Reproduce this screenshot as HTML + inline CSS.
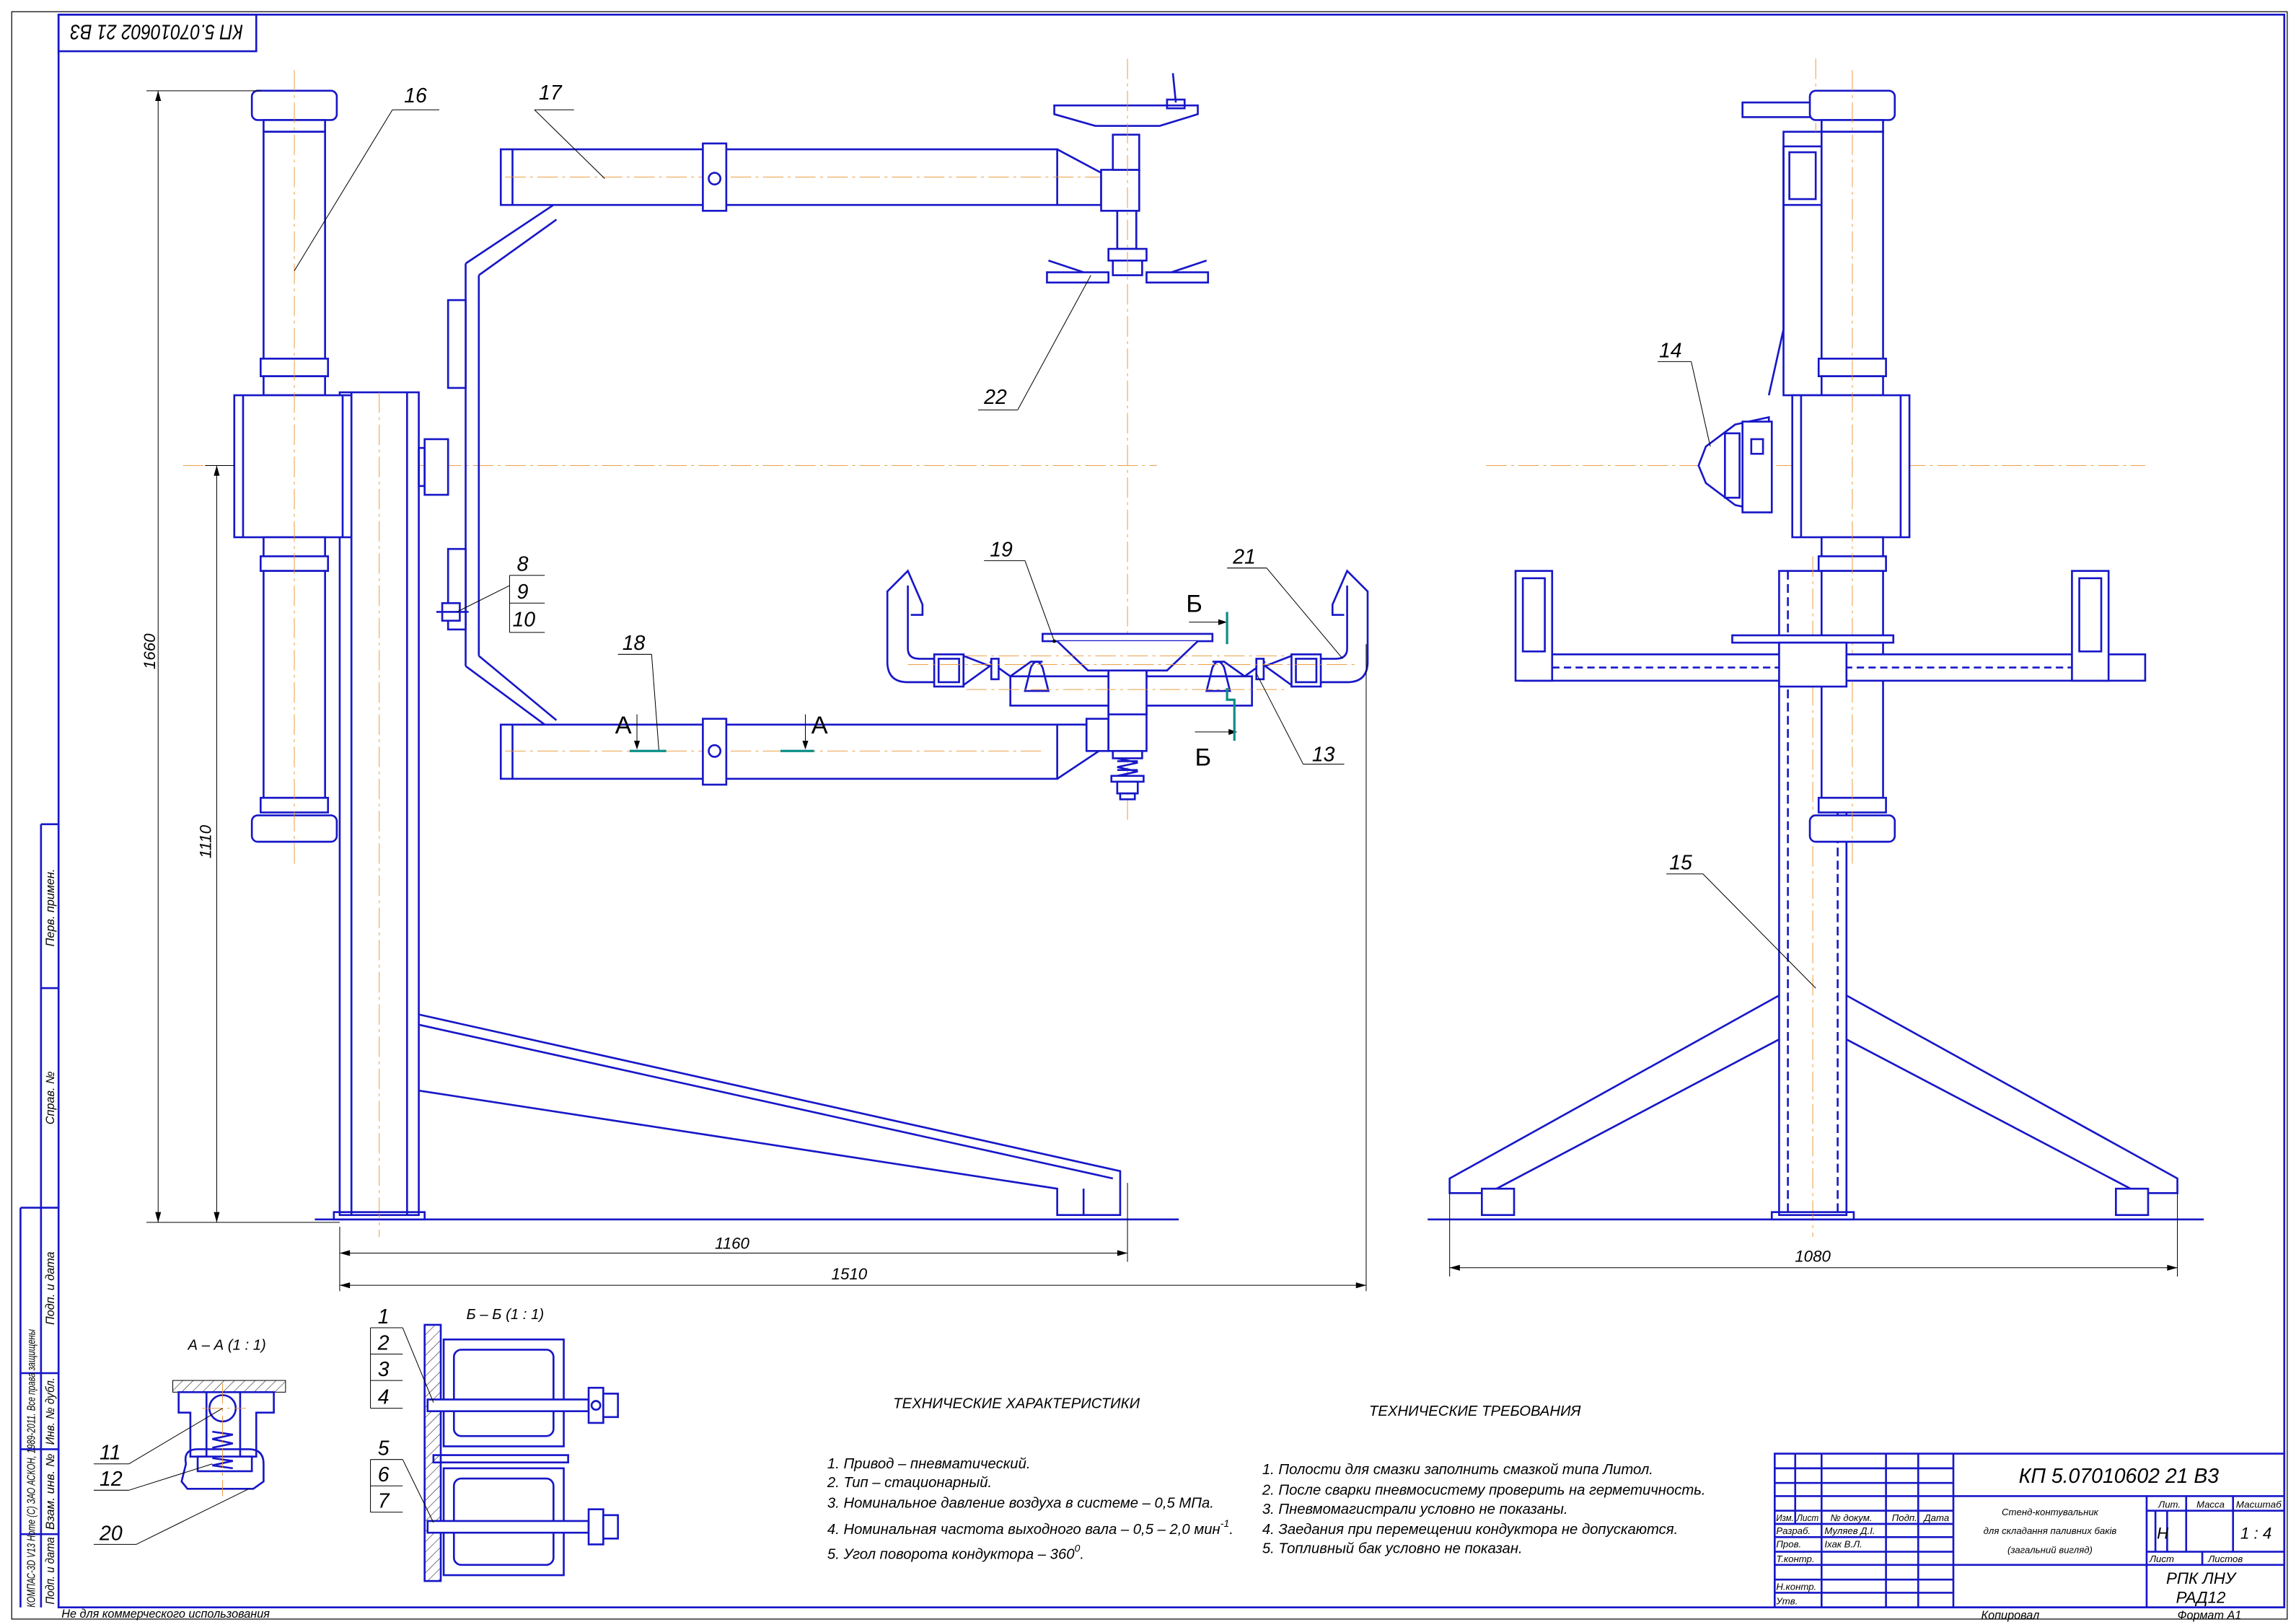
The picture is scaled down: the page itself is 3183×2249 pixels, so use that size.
<!DOCTYPE html>
<html><head><meta charset="utf-8"><style>
html,body{margin:0;padding:0;background:#fff}
svg{display:block}
.b{stroke:#1717c8;fill:none;stroke-width:1.3}
.bw{stroke:#1717c8;fill:#fff;stroke-width:1.3}
.t{stroke:#000;stroke-width:0.5;fill:none}
.c{stroke:#e8922e;stroke-width:0.45;stroke-dasharray:14 3 2 3;fill:none}
.g{stroke:#0b8f86;stroke-width:1.6;fill:none}
text{font-family:"Liberation Sans Narrow","Liberation Sans","DejaVu Sans",sans-serif;font-style:italic;fill:#000}
</style></head><body>
<svg width="3183" height="2249" viewBox="0 0 1568 1108" preserveAspectRatio="none" xmlns="http://www.w3.org/2000/svg">
<defs>
<pattern id="h" width="5" height="5" patternUnits="userSpaceOnUse" patternTransform="rotate(45)"><line x1="0" y1="0" x2="0" y2="5" stroke="#000" stroke-width="0.5"/></pattern>
<g id="col">
<rect class="bw" x="172" y="62" width="58" height="20" rx="4"/>
<rect class="bw" x="180" y="82" width="42" height="8"/>
<rect class="bw" x="180" y="90" width="42" height="155"/>
<rect class="bw" x="178" y="245" width="46" height="12"/>
<rect class="bw" x="180" y="257" width="42" height="13"/>
<rect class="bw" x="160" y="270" width="80" height="97"/>
<line class="b" x1="166" y1="270" x2="166" y2="367"/><line class="b" x1="234" y1="270" x2="234" y2="367"/>
<rect class="bw" x="180" y="367" width="42" height="13"/>
<rect class="bw" x="178" y="380" width="46" height="10"/>
<rect class="bw" x="180" y="390" width="42" height="155"/>
<rect class="bw" x="178" y="545" width="46" height="10"/>
<rect class="bw" x="172" y="557" width="58" height="18" rx="4"/>
<line class="c" x1="201" y1="48" x2="201" y2="590"/>
</g>
<g id="hold">
<path class="b" d="M612,398 L606,404 L606,452 Q606,466 620,466 L638,466 M620,400 L620,443 Q620,450 628,450 L638,450 M612,398 L620,390 L630,413 L630,420 L622,420"/>
<rect class="bw" x="638" y="447" width="20" height="22"/><rect class="b" x="641" y="450" width="14" height="16"/>
<path class="b" d="M658,448 L676,455 L658,468 M676,452 L690,462 L704,452 L712,452"/>
<rect class="bw" x="677" y="450" width="5" height="14"/>
<path class="b" d="M700,472 L704,456 Q708,448 712,456 L716,472 Z"/>
</g>
</defs>
<rect width="1568" height="1108" fill="#fff"/>
<rect x="8" y="8" width="1554" height="1098" fill="none" stroke="#000" stroke-width="0.6"/>
<rect class="b" x="40" y="10" width="1520" height="1088"/>
<rect class="b" x="40" y="10" width="135" height="25"/>
<text x="107" y="22" font-size="14" text-anchor="middle" textLength="118" lengthAdjust="spacingAndGlyphs" transform="rotate(180 107 22)" dy="5">КП 5.07010602 21 В3</text>
<path class="b" d="M28,563 L40,563 M28,563 L28,675 L40,675 M28,675 L28,825 L40,825 M14,825 L14,1098 M14,825 L40,825 M14,938 L40,938 M14,990 L40,990 M14,1048 L40,1048 M28,825 L28,1098"/>
<g font-size="8">
<text transform="translate(37,620) rotate(-90)" text-anchor="middle">Перв. примен.</text>
<text transform="translate(37,750) rotate(-90)" text-anchor="middle">Справ. №</text>
<text transform="translate(37,880) rotate(-90)" text-anchor="middle">Подп. и дата</text>
<text transform="translate(37,964) rotate(-90)" text-anchor="middle" textLength="46" lengthAdjust="spacingAndGlyphs">Инв. № дубл.</text>
<text transform="translate(37,1019) rotate(-90)" text-anchor="middle" textLength="52" lengthAdjust="spacingAndGlyphs">Взам. инв. №</text>
<text transform="translate(37,1073) rotate(-90)" text-anchor="middle" textLength="46" lengthAdjust="spacingAndGlyphs">Подп. и дата</text>
<text transform="translate(24,1098) rotate(-90)" font-size="7.5" textLength="190" lengthAdjust="spacingAndGlyphs">КОМПАС-3D V13 Home (С) ЗАО АСКОН, 1989-2011. Все права защищены</text>
</g>
<text x="42" y="1105" font-size="8">Не для коммерческого использования</text>
<text x="1353" y="1106" font-size="8">Копировал</text>
<text x="1487" y="1106" font-size="8">Формат   A1</text>

<g class="b">
<rect x="1212" y="993" width="348" height="105"/>
<path d="M1212,1003 L1334,1003 M1212,1013 L1334,1013 M1212,1022 L1560,1022 M1212,1032 L1334,1032 M1212,1041 L1334,1041 M1212,1050 L1334,1050 M1212,1060 L1334,1060 M1212,1069 L1560,1069 M1212,1079 L1334,1079 M1212,1088 L1334,1088 M1466,1032 L1560,1032 M1466,1060 L1560,1060
M1226,993 L1226,1041 M1244,993 L1244,1098 M1288,993 L1288,1098 M1310,993 L1310,1098 M1334,993 L1334,1098 M1466,1022 L1466,1098 M1493,1022 L1493,1060 M1525,1022 L1525,1060 M1504,1060 L1504,1069 M1472,1032 L1472,1060 M1480,1032 L1480,1060"/>
</g>
<text x="1447" y="1013" font-size="14" text-anchor="middle">КП 5.07010602 21 В3</text>
<g font-size="6.5">
<text x="1213" y="1039" textLength="12" lengthAdjust="spacingAndGlyphs">Изм.</text><text x="1227" y="1039" textLength="15" lengthAdjust="spacingAndGlyphs">Лист</text><text x="1250" y="1039">№ докум.</text><text x="1292" y="1039">Подп.</text><text x="1314" y="1039">Дата</text>
<text x="1213" y="1048">Разраб.</text><text x="1246" y="1048">Муляев Д.І.</text>
<text x="1213" y="1057">Пров.</text><text x="1246" y="1057">Іхак В.Л.</text>
<text x="1213" y="1067">Т.контр.</text>
<text x="1213" y="1086">Н.контр.</text><text x="1213" y="1096">Утв.</text>
<text x="1400" y="1035" text-anchor="middle">Стенд-контувальник</text>
<text x="1400" y="1048" text-anchor="middle">для складання паливних баків</text>
<text x="1400" y="1061" text-anchor="middle">(загальний вигляд)</text>
<text x="1474" y="1030">Лит.</text><text x="1500" y="1030">Масса</text><text x="1527" y="1030" textLength="31" lengthAdjust="spacingAndGlyphs">Масштаб</text>
<text x="1468" y="1067">Лист</text><text x="1508" y="1067">Листов</text>
</g>
<text x="1473" y="1051" font-size="11">Н</text>
<text x="1530" y="1051" font-size="11">1 : 4</text>
<text x="1503" y="1082" font-size="11" text-anchor="middle">РПК ЛНУ</text>
<text x="1503" y="1095" font-size="11" text-anchor="middle">РАД12</text>

<line class="c" x1="125" y1="318" x2="790" y2="318"/>
<rect class="bw" x="232" y="268" width="54" height="562"/>
<line class="b" x1="240" y1="268" x2="240" y2="830"/><line class="b" x1="278" y1="268" x2="278" y2="830"/>
<line class="c" x1="259" y1="268" x2="259" y2="845"/>
<rect class="b" x="228" y="828" width="62" height="5"/>
<path class="b" d="M286,693 L765,800 L765,830 L722,830 L722,812 L286,745 M740,812 L740,830 M286,700 L760,805"/>
<line class="b" x1="215" y1="833" x2="805" y2="833" stroke-width="0.8"/>
<use href="#col"/>
<path class="b" d="M318,180 L378,140 M327,188 L380,150 M318,180 L318,455 M327,188 L327,448 M318,455 L372,495 M327,448 L380,492"/>
<rect class="bw" x="306" y="205" width="12" height="60"/><rect class="bw" x="306" y="375" width="12" height="55"/>
<rect class="bw" x="290" y="300" width="16" height="38"/><rect class="b" x="286" y="306" width="4" height="26"/>
<rect class="bw" x="302" y="412" width="12" height="12"/><line class="b" x1="298" y1="418" x2="320" y2="418"/>
<rect class="bw" x="342" y="102" width="380" height="38"/>
<line class="b" x1="350" y1="102" x2="350" y2="140"/>
<line class="c" x1="345" y1="121" x2="760" y2="121"/>
<rect class="bw" x="480" y="98" width="16" height="46"/><circle class="b" cx="488" cy="122" r="4"/>
<path class="b" d="M722,102 L752,118 L752,140 L722,140"/>
<rect class="bw" x="752" y="116" width="26" height="28"/>
<rect class="bw" x="763" y="144" width="13" height="26"/>
<rect class="bw" x="760" y="92" width="18" height="24"/>
<path class="bw" d="M720,72 L818,72 L818,78 L792,86 L748,86 L720,78 Z"/>
<path class="b" d="M801,50 L803,70 M797,68 L809,68 L809,74 L797,74 Z"/>
<rect class="bw" x="757" y="170" width="26" height="8"/><rect class="bw" x="760" y="178" width="20" height="10"/>
<path class="b" d="M716,178 L740,186 M824,178 L800,186"/>
<rect class="bw" x="715" y="186" width="42" height="7"/><rect class="bw" x="783" y="186" width="42" height="7"/>
<line class="c" x1="770" y1="40" x2="770" y2="560"/>
<rect class="bw" x="342" y="495" width="380" height="37"/>
<line class="b" x1="350" y1="495" x2="350" y2="532"/>
<line class="c" x1="345" y1="513" x2="712" y2="513"/>
<rect class="bw" x="480" y="491" width="16" height="45"/><circle class="b" cx="488" cy="513" r="4"/>
<path class="b" d="M722,495 L752,495 L752,512 L722,532"/>
<rect class="bw" x="742" y="491" width="15" height="22"/>
<rect class="bw" x="757" y="458" width="26" height="55"/>
<line class="b" x1="757" y1="482" x2="783" y2="482"/><line class="b" x1="757" y1="485" x2="783" y2="485"/>
<rect class="bw" x="760" y="513" width="20" height="5"/>
<path class="b" d="M763,518 L777,521 L763,524 L777,527 L763,530 M763,520 L777,520 M763,526 L777,526"/>
<rect class="bw" x="759" y="530" width="22" height="4"/><rect class="bw" x="763" y="534" width="14" height="8"/><rect class="b" x="765" y="542" width="10" height="4"/>
<rect class="bw" x="690" y="462" width="165" height="20"/>
<rect class="bw" x="757" y="458" width="26" height="30"/>
<rect class="bw" x="712" y="433" width="116" height="5"/>
<path class="bw" d="M722,438 L743,458 L797,458 L818,438"/>
<circle cx="720" cy="438" r="1.2" fill="#000"/>
<use href="#hold"/>
<use href="#hold" transform="translate(1540,0) scale(-1,1)"/>
<line class="c" x1="620" y1="454" x2="925" y2="454"/>
<line class="c" x1="660" y1="448" x2="880" y2="448"/>
<line class="c" x1="660" y1="471" x2="880" y2="471"/>
<g class="t">
<path d="M100,62 L178,62 M100,835 L232,835 M140,318 L160,318"/>
<line x1="108" y1="62" x2="108" y2="835"/><line x1="148" y1="318" x2="148" y2="835"/>
<path d="M232,838 L232,882 M770,808 L770,862 M933,440 L933,882"/>
<line x1="232" y1="856" x2="770" y2="856"/><line x1="232" y1="878" x2="933" y2="878"/>
</g>
<g fill="#000">
<path d="M108,62 l-2,7 h4z M108,835 l-2,-7 h4z M148,318 l-2,7 h4z M148,835 l-2,-7 h4z M232,856 l7,-2 v4z M770,856 l-7,-2 v4z M232,878 l7,-2 v4z M933,878 l-7,-2 v4z"/>
</g>
<text transform="translate(106,445) rotate(-90)" font-size="11" text-anchor="middle">1660</text>
<text transform="translate(144,575) rotate(-90)" font-size="11" text-anchor="middle">1110</text>
<text x="500" y="853" font-size="11" text-anchor="middle">1160</text>
<text x="580" y="874" font-size="11" text-anchor="middle">1510</text>
<g class="t">
<path d="M268,75 L300,75 M268,75 L201,185"/>
<path d="M365,75 L392,75 M365,75 L413,122"/>
<path d="M668,280 L695,280 M695,280 L745,188"/>
<path d="M672,383 L700,383 M700,383 L720,438"/>
<path d="M838,388 L865,388 M865,388 L917,450"/>
<path d="M890,522 L918,522 M890,522 L858,460"/>
<path d="M422,447 L445,447 M445,447 L450,513"/>
<path d="M348,393 L372,393 M348,412 L372,412 M348,432 L372,432 M348,393 L348,432 M348,400 L312,418"/>
</g>
<g font-size="14">
<text x="276" y="70">16</text><text x="368" y="68">17</text><text x="672" y="276">22</text>
<text x="676" y="380">19</text><text x="842" y="385">21</text><text x="896" y="520">13</text>
<text x="425" y="444">18</text><text x="353" y="390">8</text><text x="353" y="409">9</text><text x="350" y="428">10</text>
</g>
<g font-size="17"><text x="420" y="501" style="font-style:normal">А</text><text x="554" y="501" style="font-style:normal">А</text><text x="810" y="418" style="font-style:normal">Б</text><text x="816" y="523" style="font-style:normal">Б</text></g>
<path class="t" d="M435,488 L435,510 M550,488 L550,510 M812,425 L836,425 M816,500 L843,500"/>
<path d="M435,512 l-2,-6 h4z M550,512 l-2,-6 h4z M838,425 l-6,-2 v4z M845,500 l-6,-2 v4z" fill="#000"/>
<path class="g" d="M430,513 L455,513 M533,513 L556,513 M838,418 L838,440 M838,470 L838,478 L843,478 L843,506"/>

<line class="c" x1="1015" y1="318" x2="1465" y2="318"/>
<rect class="bw" x="1215" y="390" width="46" height="440"/>
<line class="b" x1="1221" y1="390" x2="1221" y2="830" stroke-dasharray="6 3"/><line class="b" x1="1255" y1="390" x2="1255" y2="830" stroke-dasharray="6 3"/>
<line class="c" x1="1238" y1="380" x2="1238" y2="845"/>
<rect class="bw" x="1218" y="90" width="28" height="180"/>
<rect class="b" x="1218" y="100" width="26" height="40"/><rect class="b" x="1222" y="104" width="18" height="32"/>
<path class="b" d="M1218,225 L1208,270 M1218,140 L1218,225"/>
<rect class="bw" x="1190" y="70" width="52" height="10"/>
<line class="c" x1="1240" y1="40" x2="1240" y2="90"/>
<use href="#col" transform="translate(1064,0)"/>
<path class="bw" d="M1208,285 L1185,290 L1165,305 L1160,318 L1165,330 L1185,345 L1208,350 Z"/>
<rect class="bw" x="1178" y="296" width="10" height="44"/><rect class="bw" x="1190" y="288" width="20" height="62"/>
<rect class="b" x="1196" y="300" width="8" height="10"/>
<rect class="bw" x="1040" y="447" width="425" height="18"/>
<line class="b" x1="1060" y1="456" x2="1440" y2="456" stroke-dasharray="5 3" stroke-width="0.8"/>
<rect class="bw" x="1035" y="390" width="25" height="75"/><rect class="b" x="1040" y="395" width="15" height="50"/>
<rect class="bw" x="1415" y="390" width="25" height="75"/><rect class="b" x="1420" y="395" width="15" height="50"/>
<rect class="bw" x="1183" y="434" width="110" height="5"/>
<rect class="bw" x="1215" y="439" width="46" height="30"/>
<path class="b" d="M1215,680 L990,805 L990,815 L1012,815 M1215,710 L1022,812 M1261,680 L1487,805 L1487,815 L1465,815 M1261,710 L1455,812"/>
<rect class="bw" x="1012" y="812" width="22" height="18"/><rect class="bw" x="1445" y="812" width="22" height="18"/>
<rect class="b" x="1210" y="828" width="56" height="5"/>
<line class="b" x1="975" y1="833" x2="1505" y2="833" stroke-width="0.8"/>
<path class="t" d="M990,815 L990,872 M1487,815 L1487,872 M990,866 L1487,866"/>
<path d="M990,866 l7,-2 v4z M1487,866 l-7,-2 v4z" fill="#000"/>
<text x="1238" y="862" font-size="11" text-anchor="middle">1080</text>
<path class="t" d="M1132,247 L1155,247 M1155,247 L1168,305 M1138,597 L1163,597 M1163,597 L1240,675"/>
<text x="1133" y="244" font-size="14">14</text><text x="1140" y="594" font-size="14">15</text>

<text x="155" y="922" font-size="10" text-anchor="middle">А – А (1 : 1)</text>
<rect x="118" y="943" width="77" height="8" fill="url(#h)" stroke="#000" stroke-width="0.5"/>
<path class="b" d="M122,951 L187,951 L187,965 L175,965 L175,995 L130,995 L130,965 L122,965 Z" fill="url(#h)"/>
<rect class="bw" x="141" y="951" width="23" height="46"/>
<circle class="bw" cx="152" cy="962" r="9"/>
<path class="b" d="M145,978 L159,980 L145,983 L159,986 L145,989 M145,998 L159,1000 L145,1003 L159,1005"/>
<path class="b" d="M127,1000 Q125,990 135,990 L170,990 Q180,990 180,1000 L180,1012 L173,1017 L128,1017 L124,1012 Z" fill="url(#h)"/>
<rect class="bw" x="135" y="995" width="37" height="10"/>
<path class="b" d="M145,996 L159,998 L145,1001 L159,1003"/>
<line class="c" x1="152" y1="945" x2="152" y2="1022"/><line class="c" x1="138" y1="962" x2="168" y2="962"/>
<path class="t" d="M64,1000 L88,1000 M88,1000 L152,962 M64,1018 L88,1018 M88,1018 L145,1000 M64,1055 L93,1055 M93,1055 L170,1017"/>
<text x="68" y="997" font-size="14">11</text><text x="68" y="1015" font-size="14">12</text><text x="68" y="1052" font-size="14">20</text>

<text x="345" y="901" font-size="10" text-anchor="middle">Б – Б (1 : 1)</text>
<rect x="290" y="905" width="11" height="175" fill="url(#h)" stroke="#1717c8" stroke-width="1.3"/>
<rect class="b" x="303" y="915" width="82" height="73" fill="url(#h)"/><rect class="bw" x="310" y="922" width="68" height="59" rx="5"/>
<rect class="b" x="303" y="1003" width="82" height="73" fill="url(#h)"/><rect class="bw" x="310" y="1010" width="68" height="59" rx="5"/>
<rect class="b" x="296" y="994" width="92" height="5"/>
<rect class="bw" x="292" y="956" width="110" height="8"/>
<rect class="bw" x="402" y="948" width="10" height="24"/><rect class="bw" x="412" y="952" width="10" height="16"/><circle class="b" cx="407" cy="960" r="3"/>
<rect class="bw" x="292" y="1039" width="110" height="8"/>
<rect class="bw" x="402" y="1031" width="10" height="24"/><rect class="bw" x="412" y="1035" width="10" height="16"/>
<g class="t">
<path d="M253,907 L275,907 M253,925 L275,925 M253,943 L275,943 M253,962 L275,962 M253,997 L275,997 M253,1015 L275,1015 M253,1033 L275,1033 M253,907 L253,962 M253,997 L253,1033"/>
<path d="M275,907 L296,958 M275,997 L296,1040"/>
</g>
<g font-size="14">
<text x="258" y="904">1</text><text x="258" y="922">2</text><text x="258" y="940">3</text><text x="258" y="959">4</text>
<text x="258" y="994">5</text><text x="258" y="1012">6</text><text x="258" y="1030">7</text>
</g>

<text x="610" y="962" font-size="10">ТЕХНИЧЕСКИЕ ХАРАКТЕРИСТИКИ</text>
<g font-size="10">
<text x="565" y="1003">1. Привод – пневматический.</text>
<text x="565" y="1016">2. Тип – стационарный.</text>
<text x="565" y="1030">3. Номинальное давление воздуха в системе – 0,5 МПа.</text>
<text x="565" y="1048">4. Номинальная частота выходного вала – 0,5 – 2,0 мин<tspan font-size="7" dy="-5">-1</tspan><tspan dy="5">.</tspan></text>
<text x="565" y="1065">5. Угол поворота кондуктора – 360<tspan font-size="7" dy="-5">0</tspan><tspan dy="5">.</tspan></text>
</g>
<text x="935" y="967" font-size="10">ТЕХНИЧЕСКИЕ ТРЕБОВАНИЯ</text>
<g font-size="10">
<text x="862" y="1007">1. Полости для смазки заполнить смазкой типа Литол.</text>
<text x="862" y="1021">2. После сварки пневмосистему проверить на герметичность.</text>
<text x="862" y="1034">3. Пневмомагистрали условно не показаны.</text>
<text x="862" y="1048">4. Заедания при перемещении кондуктора не допускаются.</text>
<text x="862" y="1061">5. Топливный бак условно не показан.</text>
</g>
</svg>
</body></html>
